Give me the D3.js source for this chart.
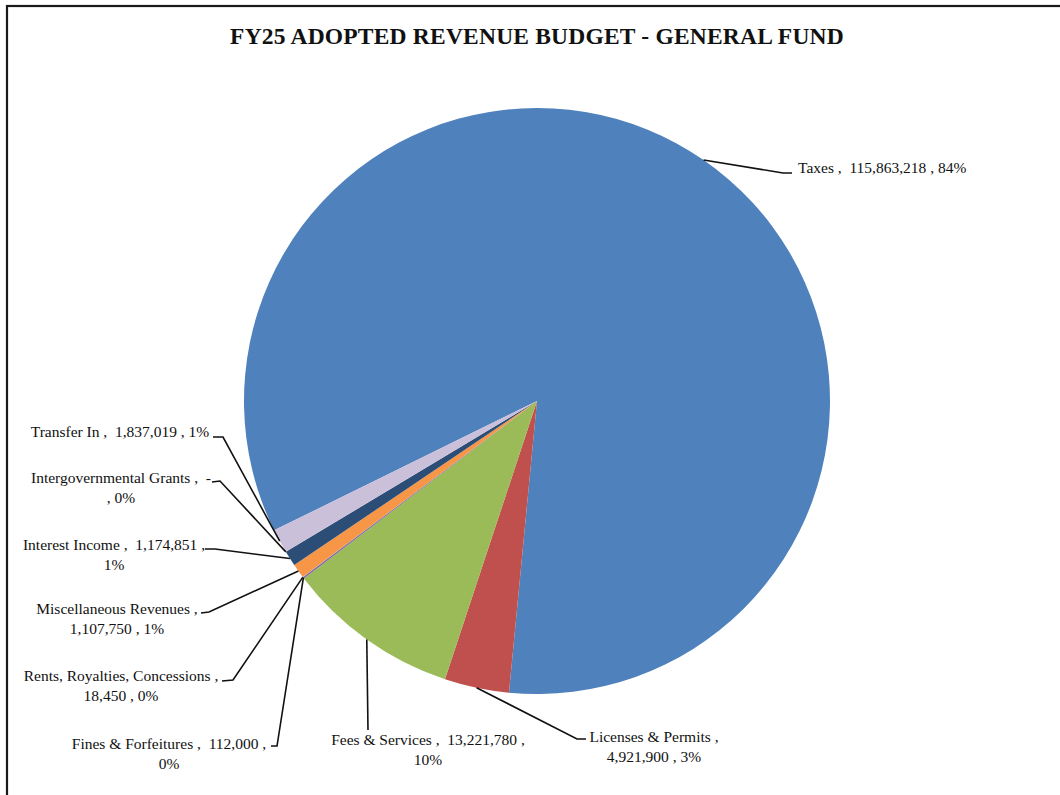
<!DOCTYPE html>
<html>
<head>
<meta charset="utf-8">
<script src="https://cdn.jsdelivr.net/npm/d3@7"></script>
<style>
  html, body { margin: 0; padding: 0; background: #fff; }
  svg { display: block; }
  text { font-family: "Liberation Serif", "DejaVu Serif", serif; fill: #111; white-space: pre; }
</style>
</head>
<body>
<svg id="chart" width="1060" height="795"></svg>
<script>
// ---- data ----
const title = "FY25 ADOPTED REVENUE BUDGET - GENERAL FUND";
const categories = [
  "Taxes", "Licenses & Permits", "Fees & Services", "Fines & Forfeitures",
  "Rents, Royalties, Concessions", "Miscellaneous Revenues", "Interest Income",
  "Intergovernmental Grants", "Transfer In"
];
const values = [115863218, 4921900, 13221780, 112000, 18450, 1107750, 1174851, 0, 1837019];
const pctLabels = ["84%", "3%", "10%", "0%", "0%", "1%", "1%", "0%", "1%"];
const colors = ["#4F81BD", "#C0504D", "#9BBB59", "#8064A2", "#4BACC6", "#F79646", "#2C4D75", "#772C2A", "#CBC0DA"];

// ---- layout (label placement, not data) ----
// k: parts on first line; cx,y: text anchor & first line center; e: elbow of leader; h: hook end
const labelLayout = [
  {k: 3, anchor: "start",  cx: 798, y: 168, e: [783, 173], h: [792, 173]},
  {k: 1, anchor: "middle", cx: 654, y: 737, e: [577, 739], h: [586, 739]},
  {k: 2, anchor: "middle", cx: 428, y: 740, e: [368, 730], h: [368, 730]},
  {k: 2, anchor: "middle", cx: 169, y: 744, e: [277, 746], h: [271, 746]},
  {k: 1, anchor: "middle", cx: 121, y: 676, e: [233, 680], h: [222, 681]},
  {k: 1, anchor: "middle", cx: 117, y: 609, e: [209, 612], h: [201, 613]},
  {k: 2, anchor: "middle", cx: 114, y: 545, e: [215, 549], h: [205, 549]},
  {k: 2, anchor: "middle", cx: 121, y: 478, e: [220, 481], h: [212, 482], commaNext: true},
  {k: 3, anchor: "middle", cx: 120, y: 432, e: [223, 437], h: [213, 437]}
];

const svg = d3.select("#chart");
const cx = 537, cy = 401, R = 293;

// frame
svg.append("rect").attr("x", 7).attr("y", 6).attr("width", 1200).attr("height", 1000)
  .attr("fill", "none").attr("stroke", "#1a1a1a").attr("stroke-width", 2.2);

// title
svg.append("text").attr("x", 537).attr("y", 44).attr("text-anchor", "middle")
  .style("font-size", "23.5px").style("font-weight", "bold").style("letter-spacing", "0.2px").text(title);

const data = categories.map((c, i) => ({name: c, value: values[i], pct: pctLabels[i], color: colors[i], lay: labelLayout[i]}));

const start = -116.2 * Math.PI / 180;
const pie = d3.pie().value(d => d.value).sort(null).startAngle(start).endAngle(start + 2 * Math.PI);
const arcs = pie(data);
const arc = d3.arc().innerRadius(0).outerRadius(R);

const g = svg.append("g").attr("transform", `translate(${cx},${cy})`);
g.selectAll("path.slice").data(arcs).join("path")
  .attr("class", "slice")
  .attr("d", arc)
  .attr("fill", d => d.data.color);

const fmt = d3.format(",");
// leaders
arcs.forEach(a => {
  const L = a.data.lay;
  const mid = (a.startAngle + a.endAngle) / 2;
  const px = cx + R * Math.sin(mid), py = cy - R * Math.cos(mid);
  svg.append("path")
    .attr("d", d3.line()([[px, py], L.e, L.h]))
    .attr("fill", "none").attr("stroke", "#111").attr("stroke-width", 1.6);
});

// labels
arcs.forEach(a => {
  const d = a.data, L = d.lay;
  const valStr = d.value === 0 ? "-" : fmt(d.value);
  const parts = [d.name, valStr, d.pct];
  let lines;
  if (L.k === 3) {
    lines = [d.name + " ,  " + valStr + " , " + d.pct];
  } else {
    const first = parts.slice(0, L.k).join(" ,  ");
    const rest = parts.slice(L.k).join(" , ");
    lines = L.commaNext ? [first, ", " + rest] : [first + " ,", rest];
  }
  const t = svg.append("text").attr("text-anchor", L.anchor).style("font-size", "15.5px");
  lines.forEach((ln, i) => {
    t.append("tspan").attr("x", L.cx).attr("y", L.y + i * 19.5).attr("dy", "0.35em").text(ln);
  });
});
</script>
</body>
</html>
